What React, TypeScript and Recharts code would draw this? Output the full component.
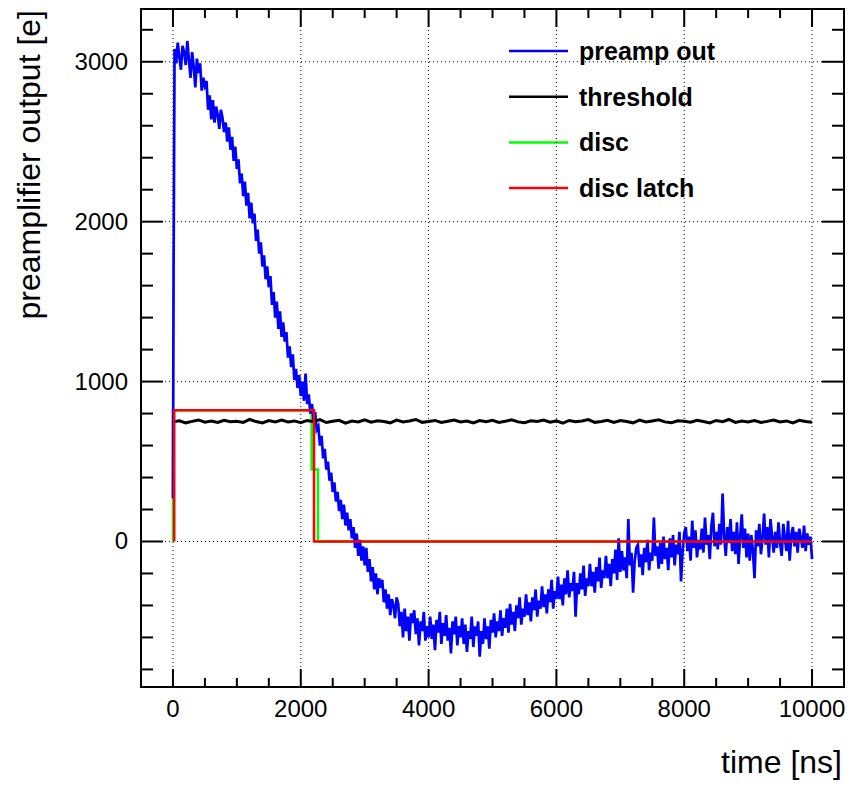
import React from 'react';
import { ComposedChart, Line, XAxis, YAxis, ReferenceLine, ReferenceArea } from 'recharts';

// preamp trace: two points on the rising edge, then one sample every 25 ns
const SAMPLE_NS = 25;
const preampHeadTime = [0, 10];
const preampHeadValue = [270, 1700];
const preampValues = [
  3080, 2990, 3120, 3030, 2950, 3100, 3060, 2980, 3130, 3010,
  2900, 3060, 2970, 2840, 3020, 2930, 2990, 2820, 2900, 2850,
  2880, 2700, 2790, 2640, 2760, 2620, 2720, 2670, 2580, 2700,
  2650, 2560, 2620, 2500, 2590, 2450, 2530, 2380, 2470, 2330,
  2390, 2240, 2300, 2160, 2250, 2100, 2180, 2020, 2120, 1990,
  2050, 1880, 1950, 1800, 1870, 1720, 1790, 1640, 1720, 1590,
  1660, 1480, 1560, 1400, 1500, 1330, 1440, 1280, 1370, 1250,
  1310, 1150, 1220, 1090, 1170, 1010, 1080, 960, 1040, 910,
  1000, 880, 1050, 860, 920, 800, 860, 760, 810, 700,
  720, 600, 660, 520, 580, 450, 500, 380, 430, 310,
  370, 250, 310, 190, 260, 140, 230, 100, 180, 70,
  140, 20, 90, -40, 50, -90, 10, -120, -30, -150,
  -40, -190, -110, -250, -160, -300, -200, -330, -230, -290,
  -240, -380, -300, -420, -330, -460, -360, -400, -480, -350,
  -390, -530, -440, -600, -420, -560, -470, -620, -450, -510,
  -430, -580, -480, -650, -500, -560, -440, -620, -530, -600,
  -470, -610, -520, -680, -490, -570, -440, -640, -510, -590,
  -460, -620, -540, -700, -500, -580, -470, -650, -530, -600,
  -480, -640, -520, -690, -560, -610, -470, -660, -530, -590,
  -500, -720, -560, -640, -480, -610, -530, -670, -490, -570,
  -450, -600, -500, -560, -430, -590, -480, -540, -420, -570,
  -390, -520, -440, -560, -400, -480, -350, -520, -420, -470,
  -330, -460, -380, -500, -350, -430, -300, -470, -370, -420,
  -280, -410, -330, -450, -300, -380, -240, -420, -310, -360,
  -220, -360, -270, -400, -230, -330, -180, -350, -260, -310,
  -190, -470, -260, -330, -200, -300, -150, -340, -230, -280,
  -140, -280, -190, -320, -160, -250, -100, -290, -180, -230,
  -90, -230, -140, -280, -110, -200, -50, -240, 20, -190,
  -60, -180, -100, -230, 140, -150, -70, -320, -120, -40,
  -20, -160, -80, -210, -40, -130, 10, -180, -70, -120,
  150, -90, -30, -170, -10, -140, 30, -110, -40, -180,
  20, -100, 40, -150, -20, -80, 60, -250, -60, 50,
  90, -60, 30, -120, 130, -40, 70, -100, 10, -50,
  80, -70, 150, -20, 40, -110, 100, 180, -30, 60,
  -50, 110, -20, 300, 40, -90, 90, -10, 140, -60,
  60, -80, 120, -140, 30, 170, -40, 80, -100, 50,
  -120, 40, -60, -230, 70, -30, 110, -80, 20, 175,
  -20, 90, -100, 140, 30, -70, 60, -40, 120, -10,
  -90, 110, 20, -60, 130, -120, 40, 90, -30, 60,
  -70, 80, 20, -40, 100, -60, 50, -20, 30, -110,
];

// threshold, every 100 ns from 0 to 10000
const THRESH_NS = 100;
const thresholdValues = [
  748, 755, 742, 751, 760, 746, 753, 744, 758, 749, 752,
  745, 763, 750, 741, 756, 748, 759, 747, 754, 743,
  757, 749, 762, 744, 752, 758, 740, 753, 747, 761,
  746, 755, 750, 742, 759, 748, 754, 763, 745, 751,
  757, 744, 752, 760, 747, 753, 741, 756, 749, 758,
  745, 752, 761, 748, 743, 755, 750, 759, 746, 754,
  740, 757, 749, 753, 762, 745, 751, 758, 744, 756,
  750, 742, 759, 747, 754, 761, 748, 743, 755, 752,
  746, 758, 750, 741, 757, 749, 763, 745, 753, 748,
  756, 744, 751, 760, 747, 754, 742, 758, 750, 746,
];

const discTime = [0, 0, 2170, 2170, 2268, 2268, 10000];
const discValue = [0, 820, 820, 450, 450, 0, 0];
const latchTime = [20, 20, 2207, 2207, 10000];
const latchValue = [0, 820, 820, 0, 0];

const xTicks = [0, 500, 1000, 1500, 2000, 2500, 3000, 3500, 4000, 4500, 5000, 5500, 6000, 6500, 7000, 7500, 8000, 8500, 9000, 9500, 10000];
const xMajor = [0, 2000, 4000, 6000, 8000, 10000];
const yTicks = [-800, -600, -400, -200, 0, 200, 400, 600, 800, 1000, 1200, 1400, 1600, 1800, 2000, 2200, 2400, 2600, 2800, 3000, 3200];
const yMajor = [0, 1000, 2000, 3000];

const legendItems = [
  { name: 'preamp out', color: '#0000ff' },
  { name: 'threshold', color: '#000000' },
  { name: 'disc', color: '#00ff00' },
  { name: 'disc latch', color: '#ff0000' },
];

const preampData = [
  ...preampHeadTime.map((t, i) => ({ t, v: preampHeadValue[i] })),
  ...preampValues.map((v, i) => ({ t: (i + 1) * SAMPLE_NS, v })),
];
const thresholdData = thresholdValues.map((v, i) => ({ t: i * THRESH_NS, v }));
const discData = discTime.map((t, i) => ({ t, v: discValue[i] }));
const latchData = latchTime.map((t, i) => ({ t, v: latchValue[i] }));

const W = 856;
const H = 787;
const LEFT = 141;
const RIGHT = 844;
const TOP = 9;
const BOTTOM = 687;
const FONT = '"Liberation Sans", Arial, Helvetica, sans-serif';

const XTick = (props: any) => {
  const { x, payload } = props;
  const major = xMajor.includes(payload.value);
  const len = major ? 18 : 9;
  return (
    <g>
      <line x1={x} x2={x} y1={BOTTOM} y2={BOTTOM - len} stroke="#000" strokeWidth={2} />
      <line x1={x} x2={x} y1={TOP} y2={TOP + len} stroke="#000" strokeWidth={2} />
      {major && (
        <text x={x} y={717} textAnchor="middle" fontFamily={FONT} fontSize={24} fill="#000">
          {payload.value}
        </text>
      )}
    </g>
  );
};

const YTick = (props: any) => {
  const { y, payload } = props;
  const major = yMajor.includes(payload.value);
  const len = major ? 22 : 12;
  return (
    <g>
      <line x1={LEFT} x2={LEFT + len} y1={y} y2={y} stroke="#000" strokeWidth={2} />
      <line x1={RIGHT} x2={RIGHT - len} y1={y} y2={y} stroke="#000" strokeWidth={2} />
      {major && (
        <text x={128} y={y + 8} textAnchor="end" fontFamily={FONT} fontSize={24} fill="#000">
          {payload.value}
        </text>
      )}
    </g>
  );
};

const XTitle = () => (
  <text x={842} y={773} textAnchor="end" fontFamily={FONT} fontSize={32} fill="#000">
    time [ns]
  </text>
);

const YTitle = () => (
  <text transform="translate(40,10) rotate(-90)" textAnchor="end" fontFamily={FONT} fontSize={32} fill="#000">
    preamplifier output [e]
  </text>
);

const LegendBox = () => (
  <g>
    {legendItems.map((it, i) => {
      const y = 51 + i * 45.7;
      return (
        <g key={it.name}>
          <line x1={509} x2={568} y1={y} y2={y} stroke={it.color} strokeWidth={2.5} />
          <text x={579} y={y} dominantBaseline="central" fontFamily={FONT} fontWeight="bold" fontSize={25} fill="#000">
            {it.name}
          </text>
        </g>
      );
    })}
  </g>
);

export default function App() {
  return (
    <div>
      <style>{'body{margin:0;background:#fff}'}</style>
      <ComposedChart width={W} height={H} margin={{ top: TOP, right: W - RIGHT, bottom: 0, left: 0 }}>
        <XAxis
          type="number"
          dataKey="t"
          domain={[-500, 10500]}
          ticks={xTicks}
          interval={0}
          allowDataOverflow
          height={H - BOTTOM}
          axisLine={false}
          tickLine={false}
          tick={XTick}
          label={XTitle}
        />
        <YAxis
          type="number"
          dataKey="v"
          domain={[-910, 3330]}
          ticks={yTicks}
          interval={0}
          allowDataOverflow
          width={LEFT}
          axisLine={false}
          tickLine={false}
          tick={YTick}
          label={YTitle}
        />
        {xMajor.map((v) => (
          <ReferenceLine key={'gx' + v} x={v} stroke="#000" strokeWidth={1} strokeDasharray="1 3" />
        ))}
        {yMajor.map((v) => (
          <ReferenceLine key={'gy' + v} y={v} stroke="#000" strokeWidth={1} strokeDasharray="1 3" />
        ))}
        <Line data={discData} dataKey="v" stroke="#00ff00" strokeWidth={2.5} dot={false} isAnimationActive={false} type="linear" />
        <Line data={preampData} dataKey="v" stroke="#0000ff" strokeWidth={2.7} dot={false} isAnimationActive={false} type="linear" />
        <Line data={thresholdData} dataKey="v" stroke="#000000" strokeWidth={3} dot={false} isAnimationActive={false} type="linear" />
        <Line data={latchData} dataKey="v" stroke="#ff0000" strokeWidth={2.5} dot={false} isAnimationActive={false} type="linear" />
        <ReferenceArea x1={-500} x2={10500} y1={-910} y2={3330} fill="none" stroke="#000" strokeWidth={2} fillOpacity={0} label={LegendBox} />
      </ComposedChart>
    </div>
  );
}
